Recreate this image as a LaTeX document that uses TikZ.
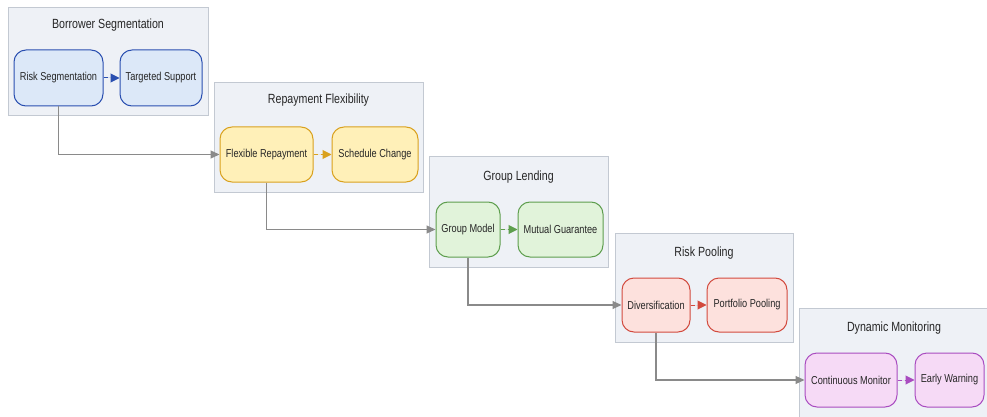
\documentclass[tikz,border=0pt]{standalone}
\usepackage{fontspec}
\setmainfont[FakeStretch=0.8]{Liberation Sans}
\usetikzlibrary{arrows.meta}
\definecolor{clfill}{HTML}{EEF1F6}
\definecolor{cldraw}{HTML}{C3C9D2}
\definecolor{txt}{HTML}{262626}
\definecolor{flowc}{HTML}{8A8A8A}
\definecolor{bfill}{HTML}{DCE8F8}\definecolor{bdraw}{HTML}{2A4FB0}
\definecolor{yfill}{HTML}{FFF0B8}\definecolor{ydraw}{HTML}{D9A11E}
\definecolor{gfill}{HTML}{E1F3DA}\definecolor{gdraw}{HTML}{5E9E4E}
\definecolor{rfill}{HTML}{FDE1DD}\definecolor{rdraw}{HTML}{D24A3E}
\definecolor{pfill}{HTML}{F6DAF6}\definecolor{pdraw}{HTML}{A94CC0}
\tikzset{
  cluster/.style={draw=cldraw, fill=clfill, line width=0.8pt},
  ctitle/.style={font=\fontsize{13.3}{15}\selectfont, text=txt, inner sep=0pt},
  box/.style={rounded corners=12pt, line width=1pt, minimum height=55pt, inner sep=0pt,
    font=\fontsize{11.5}{13}\selectfont, text=txt},
  inner/.style={dashed, dash pattern=on 4pt off 3pt, line width=1pt,
    -{Triangle[length=9pt,width=9pt]}},
  flow/.style={draw=flowc, line width=1.2pt, -{Triangle[length=9pt,width=8pt]}},
}
\begin{document}
\begin{tikzpicture}[x=1pt,y=-1pt]
\useasboundingbox (0,0) rectangle (987,417);
\clip (0,0) rectangle (987,417);
\fill[white] (0,0) rectangle (987,417);
% clusters
\draw[cluster] (8,7) rectangle (208,115);
\node[ctitle] (t1) at (108,25) {Borrower Segmentation};
\draw[cluster] (214,82) rectangle (423,192);
\node[ctitle] (t2) at (318.5,100) {Repayment Flexibility};
\draw[cluster] (429,156) rectangle (608,267);
\node[ctitle] (t3) at (518.5,177) {Group Lending};
\draw[cluster] (615,233) rectangle (793,342);
\node[ctitle] (t4) at (704,253) {Risk Pooling};
\draw[cluster] (799,308) rectangle (1000,430);
\node[ctitle] (t5) at (894,328) {Dynamic Monitoring};
% nodes
\node[box, draw=bdraw, fill=bfill, minimum width=89pt, minimum height=56pt] (n11) at (58.5,78) {Risk Segmentation};
\node[box, draw=bdraw, fill=bfill, minimum width=82pt, minimum height=56pt] (n12) at (161,78) {Targeted Support};
\node[box, draw=ydraw, fill=yfill, minimum width=93pt] (n21) at (266.5,154.5) {Flexible Repayment};
\node[box, draw=ydraw, fill=yfill, minimum width=86pt] (n22) at (375,154.5) {Schedule Change};
\node[box, draw=gdraw, fill=gfill, minimum width=64pt] (n31) at (468,229.5) {Group Model};
\node[box, draw=gdraw, fill=gfill, minimum width=85pt] (n32) at (560.5,229.5) {Mutual Guarantee};
\node[box, draw=rdraw, fill=rfill, minimum width=68pt, minimum height=54pt] (n41) at (656,305) {Diversification};
\node[box, draw=rdraw, fill=rfill, minimum width=80pt, minimum height=54pt] (n42) at (747,305) {Portfolio Pooling};
\node[box, draw=pdraw, fill=pfill, minimum width=92pt, minimum height=54pt] (n51) at (851,380) {Continuous Monitor};
\node[box, draw=pdraw, fill=pfill, minimum width=69pt, minimum height=54pt] (n52) at (949.5,380) {Early Warning};
% inner edges
\draw[inner, draw=bdraw, fill=bdraw] (n11) -- (n12);
\draw[inner, draw=ydraw, fill=ydraw] (n21) -- (n22);
\draw[inner, draw=gdraw, fill=gdraw] (n31) -- (n32);
\draw[inner, draw=rdraw, fill=rdraw] (n41) -- (n42);
\draw[inner, draw=pdraw, fill=pdraw] (n51) -- (n52);
% flow edges
\draw[flow] (n11.south) |- (n21.west);
\draw[flow] (n21.south) |- (n31.west);
\draw[flow] (n31.south) |- (n41.west);
\draw[flow] (n41.south) |- (n51.west);
\end{tikzpicture}
\end{document}
